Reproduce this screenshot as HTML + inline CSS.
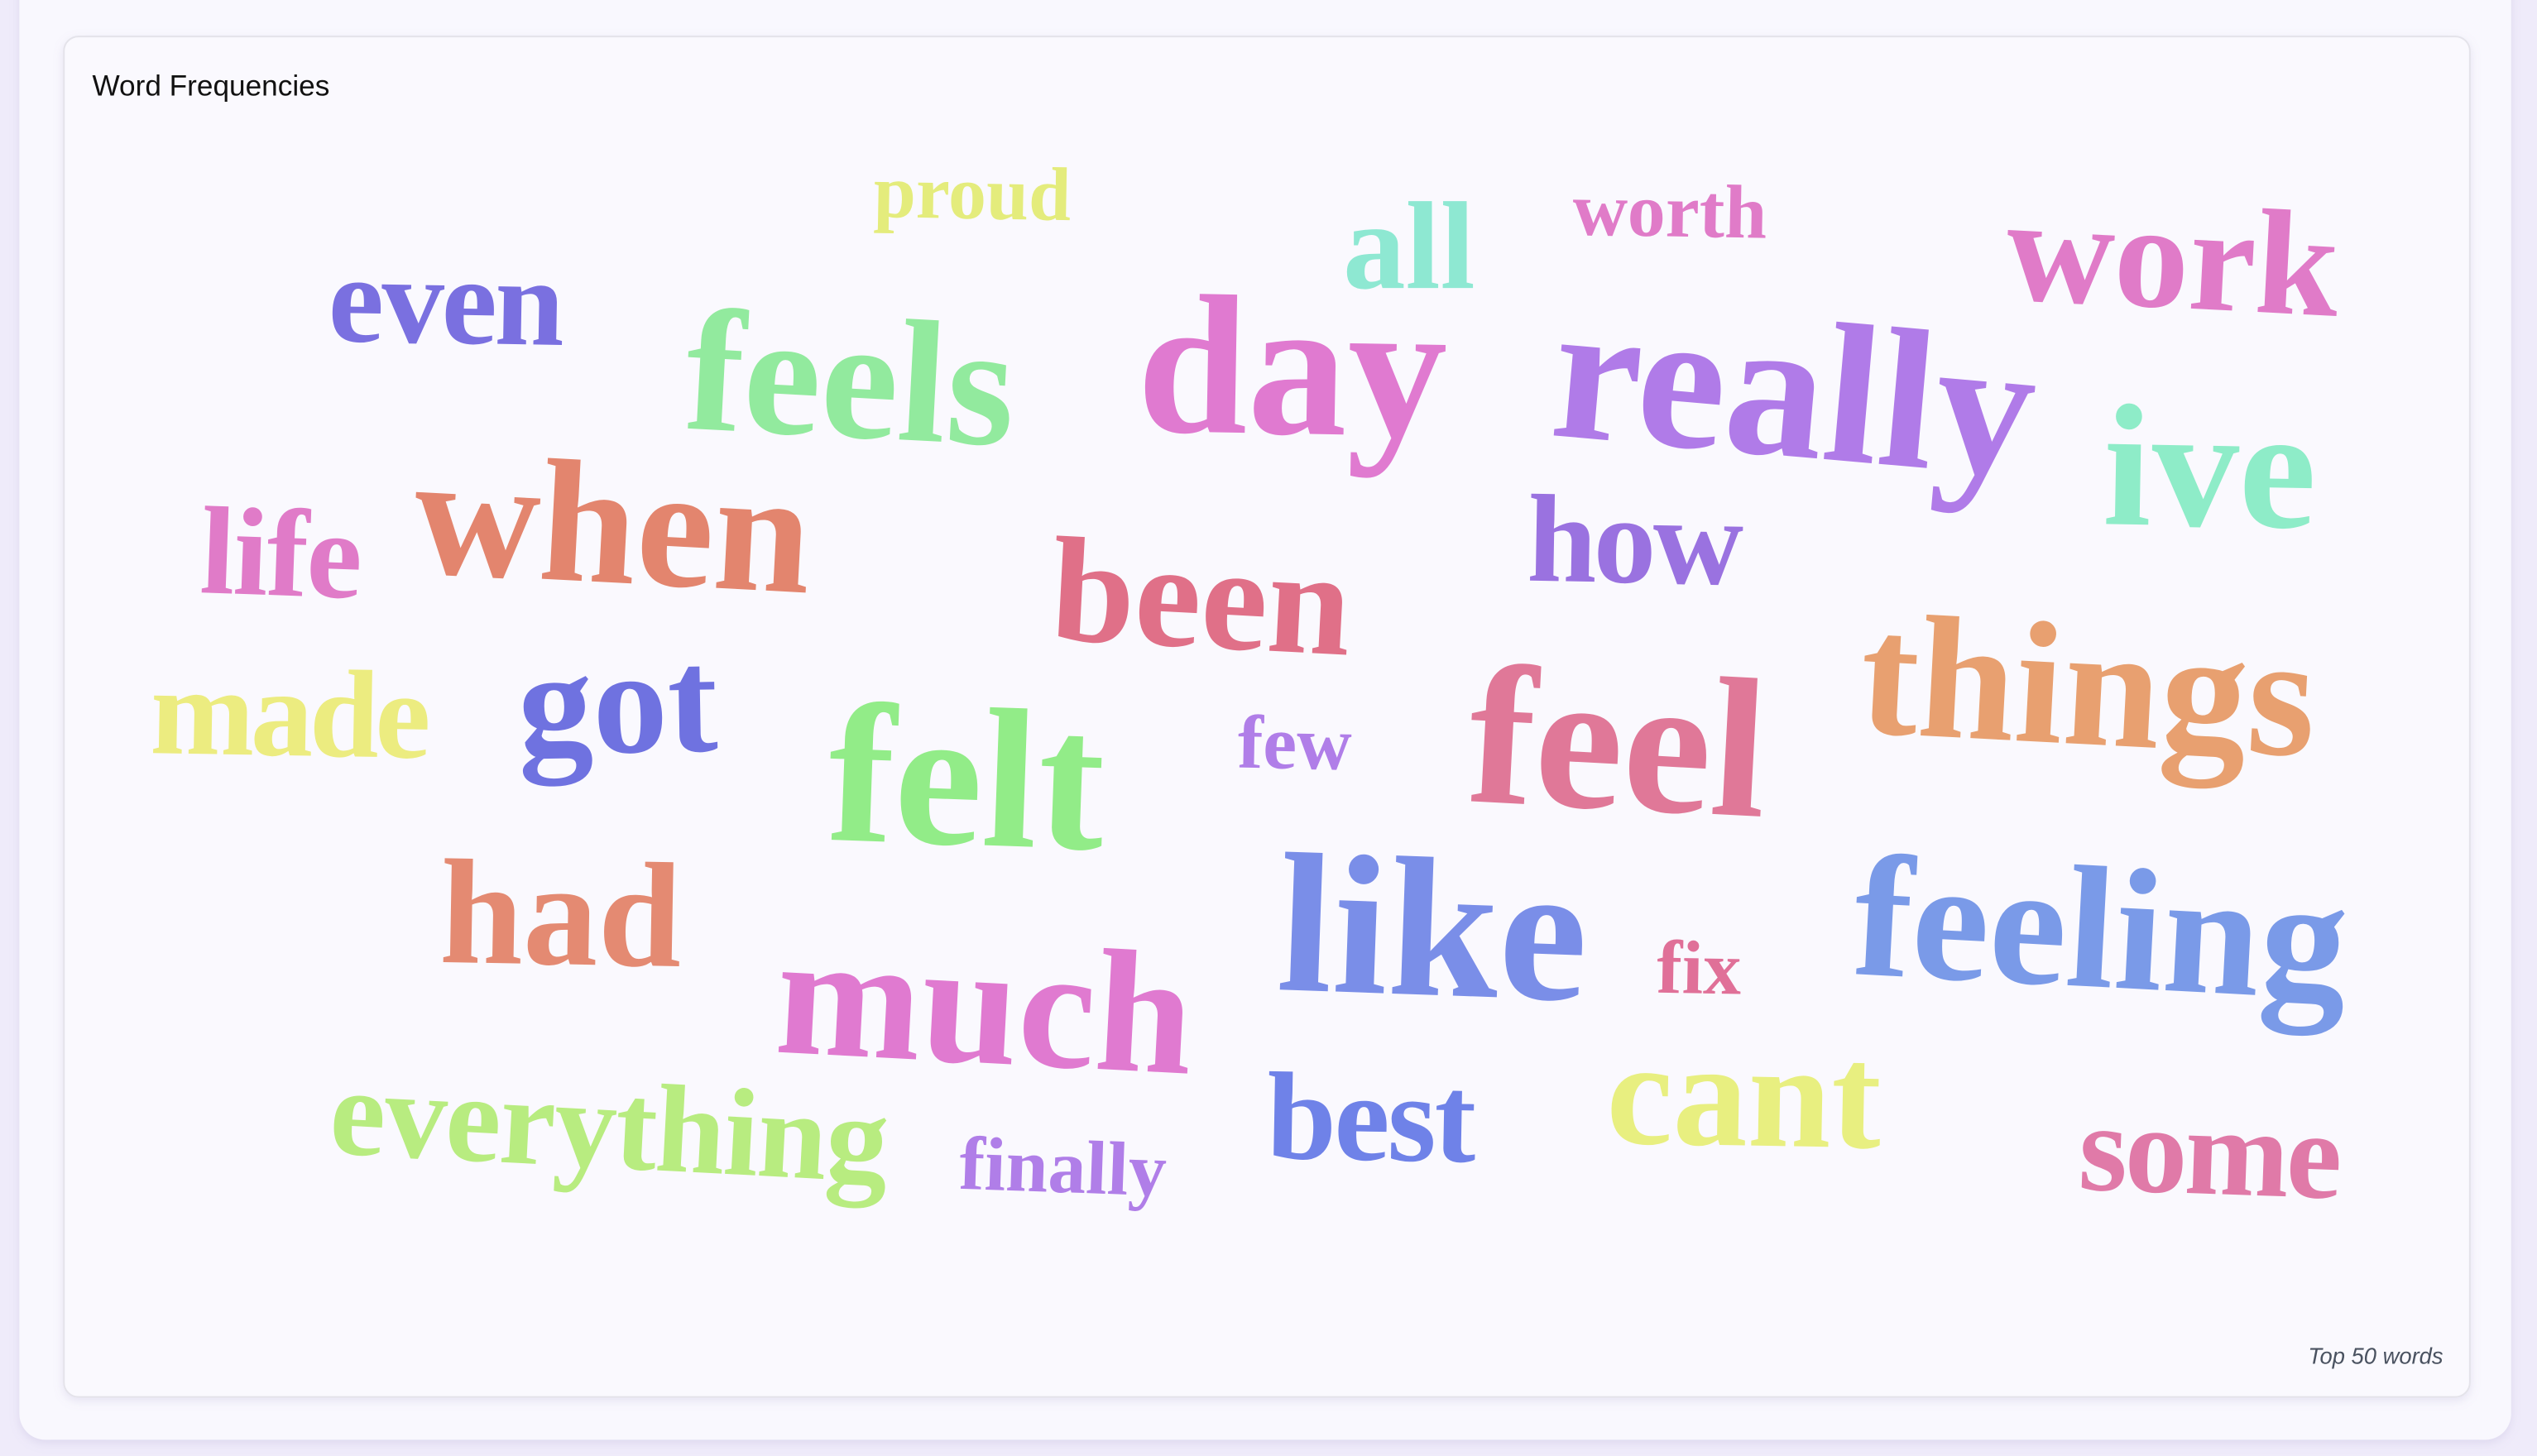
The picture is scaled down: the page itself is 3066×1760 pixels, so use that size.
<!DOCTYPE html>
<html><head><meta charset="utf-8"><style>
html,body{margin:0;padding:0;width:3066px;height:1760px;overflow:hidden;background:#efebfa}
svg{display:block}
</style></head><body>
<svg id="chart" width="3066" height="1760" viewBox="0 0 1568 900" xmlns="http://www.w3.org/2000/svg">
<defs>
<filter id="sh" x="-5%" y="-5%" width="110%" height="115%"><feDropShadow dx="0" dy="2" stdDeviation="3" flood-color="#8a7fb8" flood-opacity="0.18"/></filter>
</defs>
<rect x="12" y="-30" width="1540" height="920" rx="16" fill="#f9f8fe" filter="url(#sh)"/>
<rect x="39.5" y="22.5" width="1487" height="841" rx="9" fill="#faf9fe" stroke="#e4e3ea" stroke-width="1" filter="url(#sh)"/>
<text x="57" y="59" font-family="'Liberation Sans','DejaVu Sans',sans-serif" font-size="18" fill="#111">Word Frequencies</text>
<text x="1510" y="843" text-anchor="end" font-family="'Liberation Sans','DejaVu Sans',sans-serif" font-style="italic" font-size="14" fill="#4a5260">Top 50 words</text>
<g id="words"></g>
</svg>
<script>
const words  = ["proud","all","worth","work","even","feels","day","really","ive","life","when","been","how","things","made","got","felt","few","feel","had","much","like","fix","feeling","everything","finally","best","cant","some"];
const counts = [1,3,1,4,3,5,6,6,5,3,5,4,3,5,3,4,6,1,6,4,5,6,1,5,3,1,3,4,3];
const sizeRange = [47,123];
const colors = ["#e4ec7c","#8ee8d2","#e07bc8","#e07bc8","#7a70e0","#92ea9e","#e07ad0","#b07be8","#8eecc8","#e07bc8","#e3856e","#e07088","#9a72e0","#e8a070","#ecec80","#6f72e0","#92ec88","#b07ee8","#e07898","#e48a72","#e07ad0","#7a8ee8","#e07098","#7a9ae8","#b8ec80","#b07ee8","#6f82e8","#e8ef80","#e07aa8"];
const layoutX = [540,830,972,1240,203,424,703,960,1300,124,256,650,944,1150,93,320,512,765,908,272,480,790,1024,1146,204,593,783,993,1285];
const layoutY = [135,178,146,190,212,270,268,282,325,368,360,400,360,460,467,465,522,475,500,596,657,615,614,610,722,737,717,708,738];
const rotation = [1,0,1,3,1,3,1,5,1,2,3,3,1,3,1,-1,2,1,3,1,3,2,1,3,3,2,1,1,2];
const squeeze = [1,1,1,1,0.97,1,1,1,1,0.97,1,1,0.97,1,0.96,1,1,1,1,1,1,1,1,1,0.98,1,0.97,1,0.97];

const minC = Math.min(...counts), maxC = Math.max(...counts);
function fontSize(c){ return sizeRange[0] + (c-minC)/(maxC-minC)*(sizeRange[1]-sizeRange[0]); }
const g = document.getElementById('words');
const NS = "http://www.w3.org/2000/svg";
words.forEach((w,i)=>{
  const t = document.createElementNS(NS,'text');
  
  
  t.setAttribute('x', layoutX[i]);
  t.setAttribute('y', layoutY[i]);
  t.setAttribute('font-family', "'Liberation Serif','Times New Roman',serif");
  t.setAttribute('font-weight', 'bold');
  t.setAttribute('font-size', fontSize(counts[i]).toFixed(1));
  t.setAttribute('fill', colors[i]);
  t.textContent = w;
  g.appendChild(t);
  const bb = t.getBBox();
  t.setAttribute('textLength', (bb.width*squeeze[i]).toFixed(1));
  const cx = bb.x+bb.width/2, cy = bb.y+bb.height/2;
  t.setAttribute('transform', `rotate(${rotation[i]} ${cx} ${cy})`);
});
</script>
</body></html>
